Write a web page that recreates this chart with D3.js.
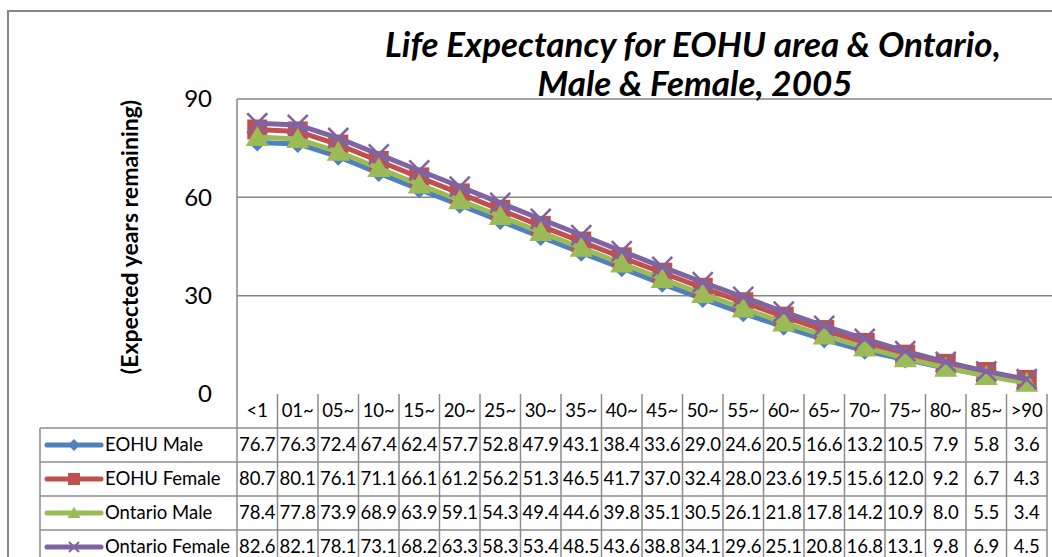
<!DOCTYPE html>
<html>
<head>
<meta charset="utf-8">
<script src="https://cdn.jsdelivr.net/npm/d3@7"></script>
<style>
  body { margin: 0; background: #fff; overflow: hidden; }
  svg { display: block; font-family: Lato, "Open Sans", sans-serif; }
</style>
</head>
<body>
<div id="chart"></div>
<script>
// data
var ageGroups = ["<1", "01~", "05~", "10~", "15~", "20~", "25~", "30~", "35~", "40~",
                 "45~", "50~", "55~", "60~", "65~", "70~", "75~", "80~", "85~", ">90"];
var eohuMale      = [76.7, 76.3, 72.4, 67.4, 62.4, 57.7, 52.8, 47.9, 43.1, 38.4, 33.6, 29.0, 24.6, 20.5, 16.6, 13.2, 10.5, 7.9, 5.8, 3.6];
var eohuFemale    = [80.7, 80.1, 76.1, 71.1, 66.1, 61.2, 56.2, 51.3, 46.5, 41.7, 37.0, 32.4, 28.0, 23.6, 19.5, 15.6, 12.0, 9.2, 6.7, 4.3];
var ontarioMale   = [78.4, 77.8, 73.9, 68.9, 63.9, 59.1, 54.3, 49.4, 44.6, 39.8, 35.1, 30.5, 26.1, 21.8, 17.8, 14.2, 10.9, 8.0, 5.5, 3.4];
var ontarioFemale = [82.6, 82.1, 78.1, 73.1, 68.2, 63.3, 58.3, 53.4, 48.5, 43.6, 38.8, 34.1, 29.6, 25.1, 20.8, 16.8, 13.1, 9.8, 6.9, 4.5];
var seriesNames   = ["EOHU Male", "EOHU Female", "Ontario Male", "Ontario Female"];
var yTicks = [0, 30, 60, 90];

var svgWidth = 1052;
var svgHeight = 557;

var plot = { left: 237, right: 1047, top: 99, bottom: 394 };
var rowH = 34;
var legendLeft = 40;
var gridColor = "#868686";
var tableColor = "#8c8c8c";
var tableFont = 18.5;

var series = [
    { name: seriesNames[0], values: eohuMale,      color: "#4F81BD", marker: "diamond" },
    { name: seriesNames[1], values: eohuFemale,    color: "#C0504D", marker: "square" },
    { name: seriesNames[2], values: ontarioMale,   color: "#9BBB59", marker: "triangle" },
    { name: seriesNames[3], values: ontarioFemale, color: "#8064A2", marker: "x" }
];

var svg = d3.select("#chart")
    .append("svg")
    .attr("width", svgWidth)
    .attr("height", svgHeight);

// outer chart border
svg.append("rect")
    .attr("x", 8).attr("y", 11)
    .attr("width", 1100).attr("height", 600)
    .attr("fill", "none")
    .attr("stroke", gridColor)
    .attr("stroke-width", 2);

var xScale = d3.scaleBand()
    .domain(ageGroups)
    .range([plot.left, plot.right]);

var yScale = d3.scaleLinear()
    .domain([0, 90])
    .range([plot.bottom, plot.top]);

// gridlines
svg.append("g")
    .selectAll("line")
    .data(yTicks.filter(d => d > 0))
    .enter()
    .append("line")
    .attr("x1", plot.left).attr("x2", svgWidth)
    .attr("y1", d => yScale(d)).attr("y2", d => yScale(d))
    .attr("stroke", gridColor)
    .attr("stroke-width", 1.5);

// left border of plot area
svg.append("line")
    .attr("x1", plot.left).attr("x2", plot.left)
    .attr("y1", plot.top).attr("y2", plot.bottom)
    .attr("stroke", gridColor)
    .attr("stroke-width", 1.5);

// y axis labels
var yAxis = d3.axisLeft(yScale).tickValues(yTicks).tickSize(0).tickPadding(25);
var yAxisG = svg.append("g")
    .attr("transform", `translate(${plot.left}, 0)`)
    .call(yAxis);
yAxisG.select(".domain").remove();
yAxisG.selectAll("text")
    .attr("font-family", "Lato, sans-serif")
    .attr("font-size", 24)
    .attr("fill", "#000");

// y axis title
svg.append("text")
    .attr("transform", "translate(138, 237) rotate(-90)")
    .attr("text-anchor", "middle")
    .attr("font-weight", "bold")
    .attr("font-size", 23)
    .text("(Expected years remaining)");

// title
var title = svg.append("text")
    .attr("text-anchor", "middle")
    .attr("font-weight", "bold")
    .attr("font-style", "italic")
    .attr("font-size", 35);
title.append("tspan").attr("x", 693).attr("y", 57).text("Life Expectancy for EOHU area & Ontario,");
title.append("tspan").attr("x", 695).attr("y", 96).text("Male & Female, 2005");

// marker shapes
function markerPath(type, r) {
    if (type === "diamond") return `M0,${-r}L${r},0L0,${r}L${-r},0Z`;
    if (type === "square") return `M${-r},${-r}H${r}V${r}H${-r}Z`;
    if (type === "triangle") return `M0,${-r * 1.05}L${r * 1.1},${r * 0.85}L${-r * 1.1},${r * 0.85}Z`;
    return `M${-r},${-r}L${r},${r}M${r},${-r}L${-r},${r}`;
}

function drawMarker(g, s, r) {
    var p = g.append("path").attr("d", markerPath(s.marker, r));
    if (s.marker === "x") {
        p.attr("fill", "none").attr("stroke", s.color).attr("stroke-width", 2.5);
    } else {
        p.attr("fill", s.color);
    }
    return p;
}

var markerSize = { diamond: 9, square: 10, triangle: 10.5, x: 10 };

var line = d3.line()
    .x((d, i) => xScale(ageGroups[i]) + xScale.bandwidth() / 2)
    .y(d => yScale(d));

var seriesG = svg.append("g");
series.forEach(s => {
    var g = seriesG.append("g");
    g.append("path")
        .datum(s.values)
        .attr("d", line)
        .attr("fill", "none")
        .attr("stroke", s.color)
        .attr("stroke-width", 5)
        .attr("stroke-linejoin", "round");
    s.values.forEach((v, i) => {
        var m = g.append("g")
            .attr("transform", `translate(${xScale(ageGroups[i]) + xScale.bandwidth() / 2}, ${yScale(v)})`);
        drawMarker(m, s, markerSize[s.marker]);
    });
});

// data table
var table = svg.append("g");
var bounds = ageGroups.map(a => xScale(a)).concat([plot.right]);

// column lines
table.selectAll(".hdrline")
    .data(bounds)
    .enter()
    .append("line")
    .attr("x1", d => d).attr("x2", d => d)
    .attr("y1", plot.bottom).attr("y2", plot.bottom + rowH * 5 + 10)
    .attr("stroke", tableColor)
    .attr("stroke-width", 1.5);

// row lines
d3.range(1, 5).forEach(i => {
    table.append("line")
        .attr("x1", legendLeft).attr("x2", plot.right)
        .attr("y1", plot.bottom + rowH * i).attr("y2", plot.bottom + rowH * i)
        .attr("stroke", tableColor)
        .attr("stroke-width", 1.5);
});
table.append("line")
    .attr("x1", legendLeft).attr("x2", legendLeft)
    .attr("y1", plot.bottom + rowH).attr("y2", svgHeight + 10)
    .attr("stroke", tableColor)
    .attr("stroke-width", 1.5);

// header labels
table.selectAll(".hdr")
    .data(ageGroups)
    .enter()
    .append("text")
    .attr("x", d => xScale(d) + xScale.bandwidth() / 2)
    .attr("y", plot.bottom + rowH / 2)
    .attr("dy", "0.35em")
    .attr("text-anchor", "middle")
    .attr("font-size", tableFont)
    .text(d => d);

series.forEach((s, si) => {
    var cy = plot.bottom + rowH * (si + 1) + rowH / 2;
    // legend key
    table.append("line")
        .attr("x1", 47).attr("x2", 101)
        .attr("y1", cy).attr("y2", cy)
        .attr("stroke", s.color)
        .attr("stroke-width", 5)
        .attr("stroke-linecap", "round");
    var m = table.append("g").attr("transform", `translate(74, ${cy})`);
    drawMarker(m, s, s.marker === "x" ? 5 : 6).attr("stroke-width", s.marker === "x" ? 2 : null);
    table.append("text")
        .attr("x", 105).attr("y", cy)
        .attr("dy", "0.35em")
        .attr("font-size", tableFont)
        .text(s.name);
    // values
    table.selectAll(null)
        .data(s.values)
        .enter()
        .append("text")
        .attr("x", (d, i) => xScale(ageGroups[i]) + xScale.bandwidth() / 2)
        .attr("y", cy)
        .attr("dy", "0.35em")
        .attr("text-anchor", "middle")
        .attr("font-size", tableFont)
        .text(d => d.toFixed(1));
});
</script>
</body>
</html>
